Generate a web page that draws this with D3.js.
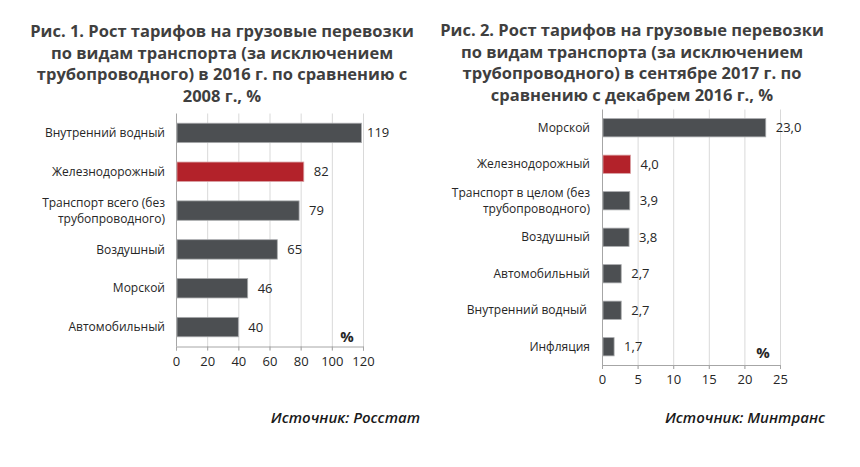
<!DOCTYPE html>
<html><head><meta charset="utf-8">
<script src="https://cdn.jsdelivr.net/npm/d3@7"></script>
<style>
body{margin:0;background:#fff;}
svg{font-family:"Open Sans",sans-serif;}
</style></head>
<body><svg id="c" width="860" height="467"></svg>
<script>
// Chart 1 data
const cats1 = ["Внутренний водный","Железнодорожный","Транспорт всего (без|трубопроводного)","Воздушный","Морской","Автомобильный"];
const vals1 = [119,82,79,65,46,40];
const labels1 = ["119","82","79","65","46","40"];
const ticks1 = [0,20,40,60,80,100,120];
const title1 = ["Рис. 1. Рост тарифов на грузовые перевозки","по видам транспорта (за исключением","трубопроводного) в 2016 г. по сравнению с","2008 г., %"];
const source1 = "Источник: Росстат";
const highlight1 = "Железнодорожный";

// Chart 2 data
const cats2 = ["Морской","Железнодорожный","Транспорт в целом (без|трубопроводного)","Воздушный","Автомобильный","Внутренний водный ","Инфляция"];
const vals2 = [23.0,4.0,3.9,3.8,2.7,2.7,1.7];
const labels2 = ["23,0","4,0","3,9","3,8","2,7","2,7","1,7"];
const ticks2 = [0,5,10,15,20,25];
const title2 = ["Рис. 2. Рост тарифов на грузовые перевозки","по видам транспорта (за исключением","трубопроводного) в сентябре 2017 г. по","сравнению с декабрем 2016 г., %"];
const source2 = "Источник: Минтранс";
const highlight2 = "Железнодорожный";

const svg = d3.select("#c");
const GREY = "#4c4f52", RED = "#b3222a", GRID = "#d9d9d9", AXIS = "#a6a6a6", TXT = "#262626";

function drawChart(cfg){
  const g = svg.append("g");
  // title
  const t = g.append("text").attr("text-anchor","middle").attr("font-weight","bold")
    .attr("font-size",16.5).attr("fill","#3f3f3f");
  cfg.title.forEach((line,i)=>{
    t.append("tspan").attr("x",cfg.titleX).attr("y",cfg.titleY + i*21.7).text(line);
  });
  const x = d3.scaleLinear().domain([0,cfg.max]).range([cfg.x0,cfg.x1]);
  const y = d3.scaleBand().domain(cfg.cats).range([cfg.y0,cfg.y1]).paddingInner(0.5).paddingOuter(0.25);
  // grid
  g.append("g").selectAll("line").data(cfg.ticks.slice(1)).join("line")
    .attr("x1",d=>x(d)+0.5).attr("x2",d=>x(d)+0.5).attr("y1",cfg.y0).attr("y2",cfg.y1+4)
    .attr("stroke",GRID).attr("stroke-width",1);
  // axis
  const ax = g.append("g").attr("transform",`translate(0,${cfg.y1})`)
    .call(d3.axisBottom(x).tickValues(cfg.ticks).tickSize(4).tickPadding(6).tickFormat(d3.format("d")));
  ax.select(".domain").attr("stroke",AXIS);
  ax.selectAll(".tick line").attr("stroke",AXIS);
  ax.selectAll(".tick text").attr("font-size",13).attr("fill",TXT).attr("font-family","Open Sans");
  g.append("line").attr("x1",cfg.x0+0.5).attr("x2",cfg.x0+0.5).attr("y1",cfg.y0).attr("y2",cfg.y1)
    .attr("stroke",AXIS);
  // bars
  g.append("g").selectAll("rect").data(cfg.cats).join("rect")
    .attr("x",x(0)+1).attr("y",d=>y(d))
    .attr("width",(d,i)=>x(cfg.vals[i])-x(0)-1).attr("height",y.bandwidth())
    .attr("fill",d=>d===cfg.highlight?RED:GREY)
    .attr("stroke",d=>d===cfg.highlight?"#d9a0a3":"#a8aaac").attr("stroke-width",0.8);
  // value labels
  g.append("g").selectAll("text").data(cfg.cats).join("text")
    .attr("x",(d,i)=>Math.min(x(cfg.vals[i])+10, cfg.x1+4))
    .attr("y",d=>y(d)+y.bandwidth()/2).attr("dy","0.35em")
    .attr("font-size",13).attr("fill",TXT).text((d,i)=>cfg.labels[i]);
  // category labels (each line its own text)
  const lines = [];
  cfg.cats.forEach(d=>{
    const parts = d.split("|");
    const yc = y(d)+y.bandwidth()/2;
    parts.forEach((p,j)=>lines.push({t:p, y:yc + (j-(parts.length-1)/2)*16}));
  });
  g.append("g").selectAll("text").data(lines).join("text")
    .attr("x",cfg.labelX).attr("y",d=>d.y).attr("dy","0.35em")
    .attr("text-anchor","end").attr("font-size",12).attr("fill",TXT)
    .attr("style","white-space:pre").text(d=>d.t);
  // percent unit
  g.append("text").attr("x",cfg.pctX).attr("y",cfg.pctY).attr("text-anchor","middle")
    .attr("font-size",15).attr("font-weight","bold").attr("fill",TXT).text("%");
  // source
  g.append("text").attr("x",cfg.srcX).attr("y",cfg.srcY).attr("text-anchor","end")
    .attr("font-size",15).attr("font-style","italic").attr("font-weight",600)
    .attr("fill","#1a1a1a").text(cfg.source);
}

drawChart({cats:cats1,vals:vals1,labels:labels1,ticks:ticks1,max:120,title:title1,source:source1,highlight:highlight1,
  titleX:222,titleY:37,x0:176,x1:363,y0:113.5,y1:346.5,labelX:165,pctX:347,pctY:342,srcX:420,srcY:423});
drawChart({cats:cats2,vals:vals2,labels:labels2,ticks:ticks2,max:25,title:title2,source:source2,highlight:highlight2,
  titleX:632,titleY:36,x0:602,x1:780,y0:109.5,y1:365,labelX:590,pctX:763,pctY:358,srcX:825,srcY:423});
</script></body></html>
